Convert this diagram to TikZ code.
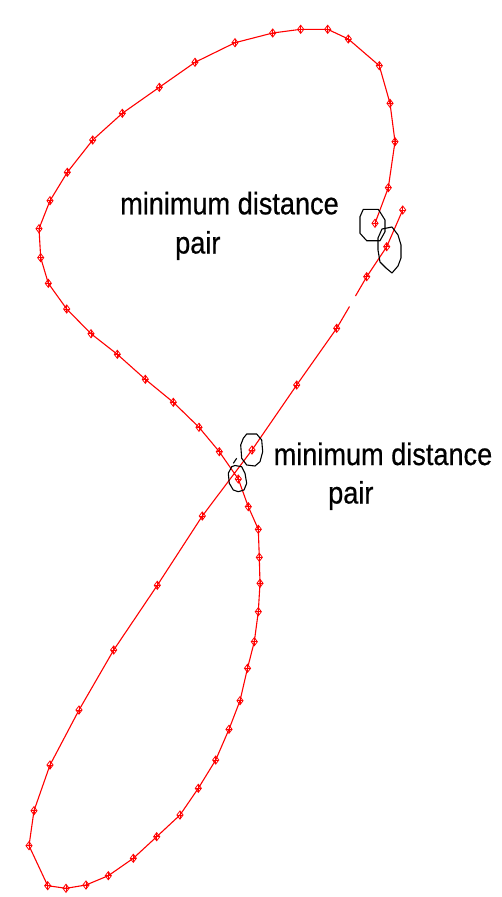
\documentclass[tikz,border=0pt]{standalone}
\usepackage{fontspec}
\setmainfont{Liberation Sans}
\newfontfamily\lblfont[FakeBold=0.6]{Liberation Sans}
\usetikzlibrary{shapes.geometric}
\tikzset{
  curve/.style={draw=red, line width=1.1pt, line join=round},
  mk/.style={diamond, draw=red, line width=0.8pt, inner sep=0pt, minimum width=6.5pt, minimum height=8.5pt,
    path picture={\draw[red, line width=0.6pt] (path picture bounding box.north) -- (path picture bounding box.south)
      (path picture bounding box.west) -- (path picture bounding box.east);}},
  ring/.style={draw=black, line width=1.1pt, line join=round},
  lbl/.style={inner sep=0pt, anchor=base west, font=\lblfont\fontsize{31}{38}\selectfont}
}
\begin{document}
\begin{tikzpicture}[x=1pt, y=-1pt]
\useasboundingbox (0,0) rectangle (501,897);
% the open curve
\draw[curve] (402.7,210) -- (386.7,246.7) -- (366.7,276.7) -- (355.5,296);
\draw[curve] (349.5,306.5) -- (336.7,328.3) -- (296.7,385) -- (252,450) -- (202.3,516) -- (157.3,585.3)
  -- (113.7,650) -- (79,710) -- (50,765) -- (34,810.7) -- (29,845.7) -- (47.7,885.7) -- (66,888.3)
  -- (86,885) -- (108.3,875.7) -- (133.3,858.3) -- (156.7,836.7) -- (180,815) -- (198.3,788.3)
  -- (215.7,760) -- (229,729.3) -- (240,700.7) -- (247.5,668.3) -- (254.3,641.7) -- (258.3,611.7)
  -- (260,583.3) -- (259.3,557.3) -- (258.3,529.3) -- (248.3,506.7) -- (238.3,479) -- (219.3,451.7)
  -- (199,427.3) -- (173.3,402.3) -- (145.3,379.3) -- (117.3,354.3) -- (91,333.7) -- (66.7,309)
  -- (48.3,283.3) -- (40.7,257.7) -- (39,228.7) -- (50,200.7) -- (67.3,172.3) -- (92.7,140)
  -- (122.3,113.3) -- (159.3,87.3) -- (195,62.3) -- (235,42.7) -- (272.7,33) -- (300.7,29.3)
  -- (327.7,29.3) -- (348.3,39) -- (379.3,65.7) -- (390,103.3) -- (395,141.7) -- (388.3,187.7)
  -- (375,223.3);
% sample markers
\foreach \p [count=\i] in {(402.7,210),(386.7,246.7),(366.7,276.7),(336.7,328.3),(296.7,385),(252,450),
  (202.3,516),(157.3,585.3),(113.7,650),(79,710),(50,765),(34,810.7),(29,845.7),(47.7,885.7),(66,888.3),
  (86,885),(108.3,875.7),(133.3,858.3),(156.7,836.7),(180,815),(198.3,788.3),(215.7,760),(229,729.3),
  (240,700.7),(247.5,668.3),(254.3,641.7),(258.3,611.7),(260,583.3),(259.3,557.3),(258.3,529.3),
  (248.3,506.7),(238.3,479),(219.3,451.7),(199,427.3),(173.3,402.3),(145.3,379.3),(117.3,354.3),
  (91,333.7),(66.7,309),(48.3,283.3),(40.7,257.7),(39,228.7),(50,200.7),(67.3,172.3),(92.7,140),
  (122.3,113.3),(159.3,87.3),(195,62.3),(235,42.7),(272.7,33),(300.7,29.3),(327.7,29.3),(348.3,39),
  (379.3,65.7),(390,103.3),(395,141.7),(388.3,187.7),(375,223.3)}
  \node[mk] (m\i) at \p {};
% black markers around the minimum distance pairs
\draw[ring] (363.3,209.3) -- (378.3,209.3) -- (385,220) -- (385,231.7) -- (380,240.7) -- (366.7,240.7)
  -- (360,233.3) -- (360,216.7) -- cycle;
\draw[ring] (382,229) -- (392,227) -- (398,235) -- (401,245) -- (401,258) -- (398,266) -- (392,273)
  -- (386,268) -- (380,262) -- (378,250) -- (378,238) -- cycle;
\draw[ring] (246.7,434) -- (256.7,434) -- (261.7,440) -- (262.7,451.7) -- (260,461.7) -- (255,466)
  -- (246.7,465) -- (241.7,458.3) -- (240.7,445) -- (243.3,438.3) -- cycle;
\draw[ring] (235,465.5) -- (241.7,466.7) -- (245,473.3) -- (246.7,483.3) -- (244,490) -- (238.3,491.7)
  -- (233.3,490) -- (229.3,483.3) -- (228.3,473.3) -- (231.7,466.7) -- cycle;
\draw[ring] (233.3,463.3) -- (236.7,458.3);
% labels
\node[lbl] (t1a) at (120,214.3) {\scalebox{0.875}[1]{minimum distance}};
\node[lbl] (t1b) at (175,253.5) {\scalebox{0.875}[1]{pair}};
\node[lbl] (t2a) at (273.5,465) {\scalebox{0.875}[1]{minimum distance}};
\node[lbl] (t2b) at (328,503.5) {\scalebox{0.875}[1]{pair}};
\end{tikzpicture}
\end{document}
